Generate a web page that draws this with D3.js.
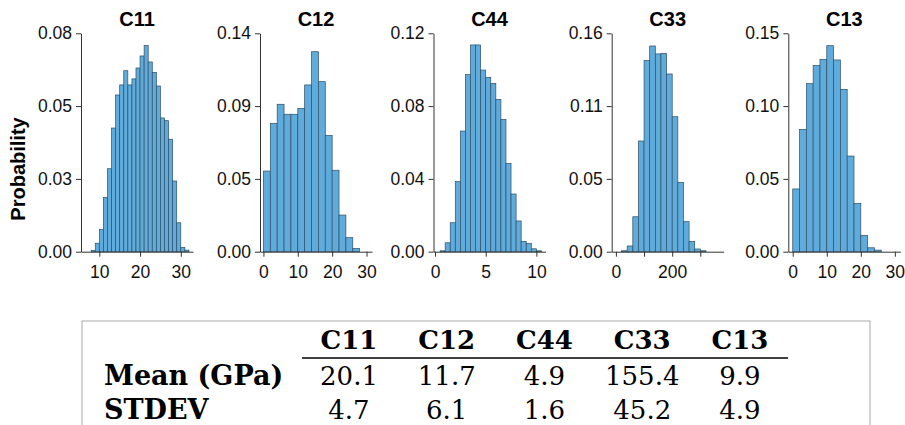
<!DOCTYPE html>
<html>
<head>
<meta charset="utf-8">
<script src="https://cdn.jsdelivr.net/npm/d3@7"></script>
<style>
  body { margin: 0; background: #fff; }
  svg { display: block; }
  .tick text { font-family: "Liberation Sans", Arial, sans-serif; }
</style>
</head>
<body>
<svg id="chart" width="905" height="425"></svg>
<script>
// histogram bins (probability per bin)
const panelNames = ["C11", "C12", "C44", "C33", "C13"];
const binStarts = [8, 0, 0.5, 20, 0];
const binWidths = [1, 2, 0.5, 20, 2];

const c11Probs = [0.0004, 0.0031, 0.0082, 0.0199, 0.0304, 0.0453, 0.0574, 0.0611, 0.0663, 0.0611, 0.0633, 0.0673,
                  0.0717, 0.0755, 0.0695, 0.0657, 0.0607, 0.0490, 0.0480, 0.0412, 0.0259, 0.0106, 0.0016, 0.0006];
const c12Probs = [0.0517, 0.0823, 0.0945, 0.0881, 0.0881, 0.0919, 0.1069, 0.1282, 0.1090, 0.0746, 0.0522, 0.0235, 0.0090, 0.0021];
const c44Probs = [0.0005, 0.0049, 0.0159, 0.0385, 0.0663, 0.0973, 0.1136, 0.1136, 0.0998, 0.0958, 0.0925, 0.0837,
                  0.0727, 0.0485, 0.0317, 0.0169, 0.0057, 0.0046, 0.0016, 0.0005];
const c33Probs = [0.0007, 0.0042, 0.0256, 0.0811, 0.1400, 0.1507, 0.1449, 0.1453, 0.1302, 0.0989, 0.0508, 0.0220, 0.0076, 0.0020, 0.0007];
const c13Probs = [0.0431, 0.0840, 0.1154, 0.1278, 0.1321, 0.1415, 0.1317, 0.1115, 0.0657, 0.0332, 0.0112, 0.0027, 0.0011];
const allProbs = [c11Probs, c12Probs, c44Probs, c33Probs, c13Probs];

const xDomains = [[5.5, 33], [-1, 31.6], [-0.15, 10.9], [-15, 383], [-1.3, 31.6]];
const xTickValues = [[10, 20, 30], [0, 10, 20, 30], [0, 5, 10], [0, 100, 200, 300], [0, 10, 20, 30]];
const xTickLabels = [["10", "20", "30"], ["0", "10", "20", "30"], ["0", "5", "10"], ["0", "", "200", ""], ["0", "10", "20", "30"]];

const yTickValues = [[0, 0.02667, 0.05333, 0.08], [0, 0.04667, 0.09333, 0.14], [0, 0.04, 0.08, 0.12],
                     [0, 0.05333, 0.10667, 0.16], [0, 0.05, 0.10, 0.15]];
const yTickLabels = [["0.00", "0.03", "0.05", "0.08"], ["0.00", "0.05", "0.09", "0.14"], ["0.00", "0.04", "0.08", "0.12"],
                     ["0.00", "0.05", "0.11", "0.16"], ["0.00", "0.05", "0.10", "0.15"]];

// summary table
const tableCols = ["C11", "C12", "C44", "C33", "C13"];
const rowLabels = ["Mean (GPa)", "STDEV"];
const meanVals = ["20.1", "11.7", "4.9", "155.4", "9.9"];
const stdVals = ["4.7", "6.1", "1.6", "45.2", "4.9"];

const svg = d3.select("#chart");
const panelLefts = [81, 260, 433.5, 611.7, 788.3];
const plotW = 112, yTop = 33.3, yBottom = 251.7;
const axisColor = "#333";

panelNames.forEach((name, i) => {
    const g = svg.append("g").attr("transform", `translate(${panelLefts[i]},0)`);
    const x = d3.scaleLinear().domain(xDomains[i]).range([0, plotW]);
    const yMax = yTickValues[i][yTickValues[i].length - 1];
    const y = d3.scaleLinear().domain([0, yMax]).range([yBottom, yTop]);

    const bins = allProbs[i].map((p, k) => ({
        x0: binStarts[i] + k * binWidths[i],
        x1: binStarts[i] + (k + 1) * binWidths[i],
        p: p
    }));

    g.append("g").selectAll("rect")
        .data(bins)
        .join("rect")
        .attr("x", d => x(d.x0))
        .attr("y", d => y(d.p))
        .attr("width", d => x(d.x1) - x(d.x0))
        .attr("height", d => y(0) - y(d.p))
        .attr("fill", "#5fabdb")
        .attr("stroke", "#2f4f66")
        .attr("stroke-width", 0.7);

    // y axis
    const yAxis = g.append("g")
        .call(d3.axisLeft(y).tickValues(yTickValues[i]).tickFormat((d, k) => yTickLabels[i][k]).tickSize(5).tickPadding(4).tickSizeOuter(0));
    // x axis
    const xAxis = g.append("g").attr("transform", `translate(0,${yBottom})`)
        .call(d3.axisBottom(x).tickValues(xTickValues[i]).tickFormat((d, k) => xTickLabels[i][k]).tickSize(5).tickPadding(9).tickSizeOuter(0));

    [yAxis, xAxis].forEach(ax => {
        ax.select(".domain").attr("stroke", axisColor);
        ax.selectAll(".tick line").attr("stroke", axisColor);
        ax.selectAll(".tick text").attr("fill", "#111").style("font-size", "17.5px");
    });

    g.append("text")
        .attr("x", plotW / 2)
        .attr("y", 26)
        .attr("text-anchor", "middle")
        .style("font-family", "'Liberation Sans', Arial, sans-serif")
        .style("font-weight", "bold")
        .style("font-size", "20px")
        .text(name);
});

svg.append("text")
    .attr("transform", "translate(25,169) rotate(-90)")
    .attr("text-anchor", "middle")
    .style("font-family", "'Liberation Sans', Arial, sans-serif")
    .style("font-weight", "bold")
    .style("font-size", "20px")
    .text("Probability");

// table
const tbl = svg.append("g");
tbl.append("rect")
    .attr("x", 82).attr("y", 321).attr("width", 788).attr("height", 130)
    .attr("fill", "none").attr("stroke", "#aaa").attr("stroke-width", 1);

const colX = d3.scalePoint().domain(tableCols).range([349, 740]);
const serif = "'DejaVu Serif', 'Liberation Serif', serif";

tbl.selectAll(".colhead")
    .data(tableCols)
    .join("text")
    .attr("class", "colhead")
    .attr("x", d => colX(d))
    .attr("y", 349)
    .attr("text-anchor", "middle")
    .style("font-family", serif).style("font-weight", "bold").style("font-size", "26px")
    .text(d => d);

tbl.append("line")
    .attr("x1", 302).attr("x2", 788).attr("y1", 358).attr("y2", 358)
    .attr("stroke", "#000").attr("stroke-width", 1.5);

const rowY = [385, 419];
rowLabels.forEach((lab, r) => {
    tbl.append("text")
        .attr("x", 104).attr("y", rowY[r])
        .style("font-family", serif).style("font-weight", "bold").style("font-size", "27px")
        .text(lab);
    tbl.selectAll(".row" + r)
        .data(r === 0 ? meanVals : stdVals)
        .join("text")
        .attr("class", "row" + r)
        .attr("x", (d, k) => colX(tableCols[k]))
        .attr("y", rowY[r])
        .attr("text-anchor", "middle")
        .style("font-family", serif).style("font-size", "26px")
        .text(d => d);
});
</script>
</body>
</html>
